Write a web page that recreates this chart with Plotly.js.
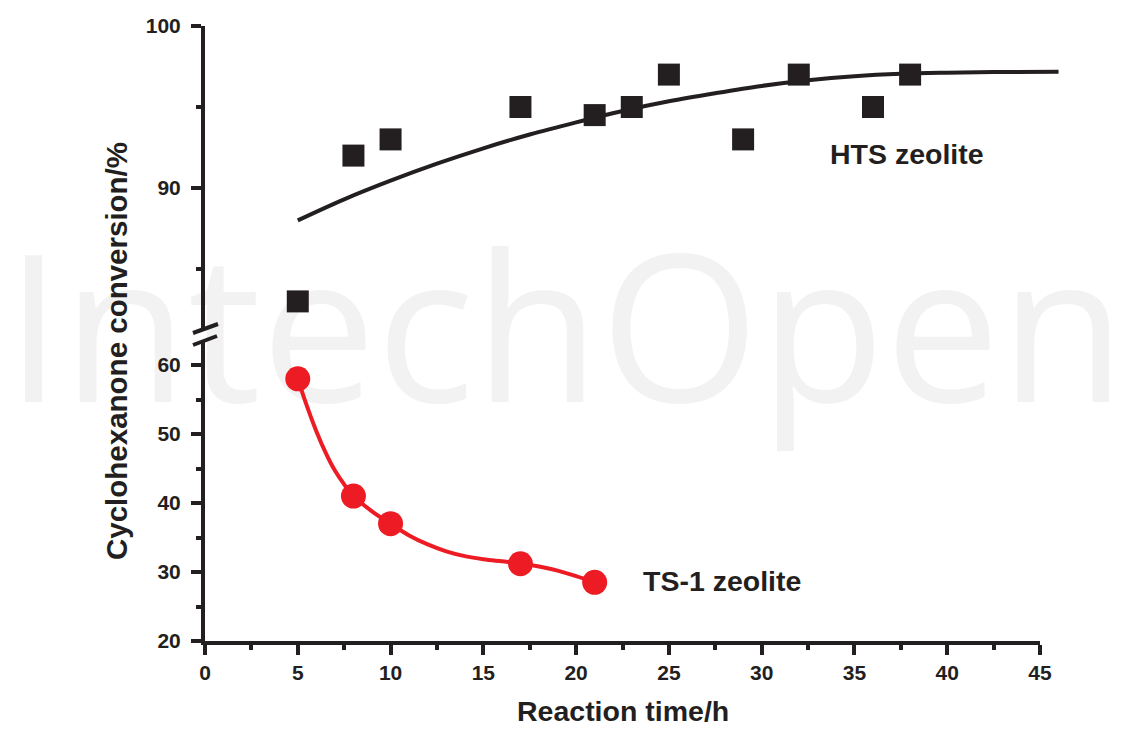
<!DOCTYPE html>
<html>
<head>
<meta charset="utf-8">
<script src="https://cdn.plot.ly/plotly-3.0.1.min.js"></script>
<style>
  html, body { margin: 0; padding: 0; background: #ffffff; }
  #chart { width: 1140px; height: 730px; }
</style>
</head>
<body>
<div id="chart"></div>
<script>
// ---- data ----
const htsTime = [5, 8, 10, 17, 21, 23, 25, 29, 32, 36, 38];
const htsConversion = [83, 92, 93, 95, 94.5, 95, 97, 93, 97, 95, 97];

// fitted curve drawn through the HTS points
const htsFitTime = [5, 7.5, 10, 12.5, 15, 17.5, 20, 22.5, 25, 27.5, 30, 32.5, 35, 37.5, 40, 42.5, 46];
const htsFitConversion = [88.0, 89.3, 90.45, 91.5, 92.45, 93.3, 94.05, 94.75, 95.35, 95.85, 96.3, 96.65, 96.9, 97.05, 97.12, 97.16, 97.18];

const ts1Time = [5, 8, 10, 17, 21];
const ts1Conversion = [58, 41, 37, 31.2, 28.5];

// smooth curve drawn through the TS-1 points
const ts1CurveTime = [5, 5.5, 6, 6.5, 7, 7.5, 8, 9, 10, 11, 12, 13, 14, 15, 16, 17, 18, 19, 20, 21];
const ts1CurveConversion = [58, 54.0, 50.4, 47.3, 44.7, 42.7, 41.0, 38.8, 37.0, 35.3, 34.0, 33.0, 32.3, 31.85, 31.55, 31.25, 30.8, 30.2, 29.4, 28.5];

const xTickVals = [0, 5, 10, 15, 20, 25, 30, 35, 40, 45];
const yLowTickVals = [20, 30, 40, 50, 60];
const yHighTickVals = [90, 100];

const labelHTS = 'HTS zeolite';
const labelTS1 = 'TS-1 zeolite';
const xTitle = 'Reaction time/h';
const yTitle = 'Cyclohexanone conversion/%';
const watermark = 'IntechOpen';

// ---- styling ----
const ink = '#231f20';
const red = '#ed1c24';
const fam = 'Liberation Sans, Arial, Helvetica, sans-serif';
const tickFont = { family: fam, size: 21, color: ink, weight: 700 };
const labelFont = { family: fam, size: 28.5, color: ink, weight: 700 };
const xTitleFont = { family: fam, size: 28.5, color: ink, weight: 700 };
const yTitleFont = { family: fam, size: 29.5, color: ink, weight: 700 };

const xDomainEnd = 835 / 855;

const traces = [
  {
    x: htsFitTime, y: htsFitConversion, xaxis: 'x2', yaxis: 'y2',
    mode: 'lines', line: { color: ink, width: 4, shape: 'spline', smoothing: 1 },
    hoverinfo: 'skip', showlegend: false
  },
  {
    x: htsTime, y: htsConversion, xaxis: 'x2', yaxis: 'y2',
    mode: 'markers', marker: { symbol: 'square', size: 22, color: ink, line: { width: 0 } },
    cliponaxis: false, showlegend: false
  },
  {
    x: ts1CurveTime, y: ts1CurveConversion, xaxis: 'x', yaxis: 'y',
    mode: 'lines', line: { color: red, width: 4, shape: 'spline', smoothing: 1 },
    hoverinfo: 'skip', showlegend: false
  },
  {
    x: ts1Time, y: ts1Conversion, xaxis: 'x', yaxis: 'y',
    mode: 'markers',
    marker: { symbol: 'circle', size: 25, color: red, line: { width: 0 } },
    cliponaxis: false, showlegend: false
  }
];

const axisCommon = {
  showgrid: false, zeroline: false, showline: true,
  linecolor: ink, linewidth: 4,
  ticks: 'outside', ticklen: 10, tickwidth: 4, tickcolor: ink,
  tickfont: tickFont, fixedrange: true
};

const layout = {
  width: 1140, height: 730,
  margin: { l: 205, r: 80, t: 26, b: 89, pad: 0 },
  paper_bgcolor: '#ffffff', plot_bgcolor: 'rgba(0,0,0,0)',
  showlegend: false,
  xaxis: Object.assign({}, axisCommon, {
    domain: [0, xDomainEnd], range: [0, 45], anchor: 'y',
    tickmode: 'array', tickvals: xTickVals, ticktext: xTickVals.map(String),
    ticklabelstandoff: 0,
    minor: { dtick: 2.5, tick0: 0, ticks: 'outside', ticklen: 5, tickwidth: 4, tickcolor: ink, showgrid: false }
  }),
  xaxis2: {
    domain: [0, 1], range: [0, 45 / xDomainEnd], anchor: 'y2', visible: false, fixedrange: true
  },
  yaxis: Object.assign({}, axisCommon, {
    domain: [0, (641 - 341) / 615], range: [20, 20 + 300 / 6.9], anchor: 'x',
    tickmode: 'array', tickvals: yLowTickVals, ticktext: yLowTickVals.map(String),
    ticklabelstandoff: 6,
    minor: { dtick: 5, tick0: 0, ticks: 'outside', ticklen: 5, tickwidth: 4, tickcolor: ink, showgrid: false }
  }),
  yaxis2: Object.assign({}, axisCommon, {
    domain: [(641 - 329) / 615, 1], range: [100 - 303 / 16.2, 100], anchor: 'x',
    tickmode: 'array', tickvals: yHighTickVals, ticktext: yHighTickVals.map(String),
    ticklabelstandoff: 6,
    minor: { dtick: 5, tick0: 0, ticks: 'outside', ticklen: 5, tickwidth: 4, tickcolor: ink, showgrid: false }
  }),
  shapes: [
    // faint watermark behind the data
    {
      type: 'rect', layer: 'below', xref: 'paper', yref: 'paper',
      x0: (2 - 205) / 855, x1: 1.25, y0: (641 - 440) / 615, y1: (641 - 232) / 615,
      line: { width: 0 }, fillcolor: 'rgba(0,0,0,0)',
      label: { text: watermark, textposition: 'middle left', padding: 0,
               font: { family: 'Open Sans, sans-serif', size: 205, color: '#f2f2f2' } }
    },
    // axis break marks
    {
      type: 'line', xref: 'paper', yref: 'paper', xsizemode: 'pixel', ysizemode: 'pixel',
      xanchor: 0, yanchor: (641 - 335) / 615, x0: -12, x1: 13, y0: 2, y1: 11,
      line: { color: ink, width: 4 }
    },
    {
      type: 'line', xref: 'paper', yref: 'paper', xsizemode: 'pixel', ysizemode: 'pixel',
      xanchor: 0, yanchor: (641 - 335) / 615, x0: -12, x1: 12, y0: -10, y1: -1,
      line: { color: ink, width: 4 }
    }
  ],
  annotations: [
    {
      text: labelHTS, xref: 'x2', yref: 'y2', x: 33.6, y: 92.1,
      xanchor: 'left', yanchor: 'middle', showarrow: false, font: labelFont
    },
    {
      text: labelTS1, xref: 'x', yref: 'y', x: 23.5, y: 28.7,
      xanchor: 'left', yanchor: 'middle', showarrow: false, font: labelFont
    },
    {
      text: xTitle, xref: 'paper', yref: 'paper', x: xDomainEnd / 2, y: 0,
      xanchor: 'center', yanchor: 'bottom', yshift: -88, showarrow: false, font: xTitleFont
    },
    {
      text: yTitle, xref: 'paper', yref: 'paper', x: 0, y: (641 - 351) / 615,
      xanchor: 'center', yanchor: 'middle', xshift: -89, textangle: -90, showarrow: false, font: yTitleFont
    }
  ]
};

Plotly.newPlot('chart', traces, layout, { staticPlot: true, displayModeBar: false });
</script>
</body>
</html>
